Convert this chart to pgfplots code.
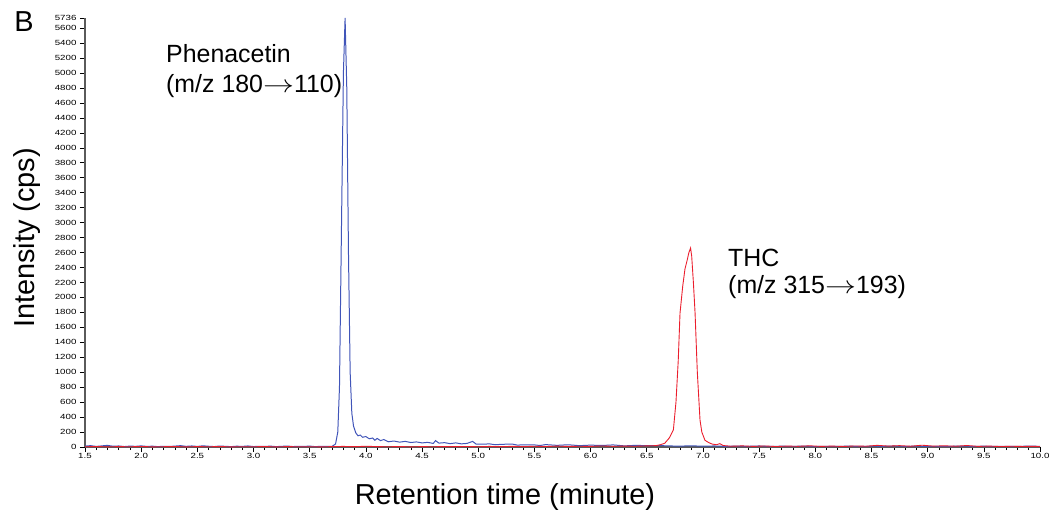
\documentclass[border=0pt]{standalone}
\usepackage{fontspec}
\setmainfont{Liberation Sans}
\usepackage{graphicx}
\usepackage{pgfplots}
\pgfplotsset{compat=1.18}
\definecolor{cblue}{RGB}{65,85,185}
\definecolor{cred}{RGB}{235,30,45}
\definecolor{caxis}{RGB}{90,90,90}
\newcommand{\arr}{\scalebox{1.25}[1]{$\rightarrow$}}
\begin{document}
\begin{tikzpicture}
\path[use as bounding box] (-85bp,-67bp) rectangle (966bp,447bp);
\begin{axis}[
  at={(0,0)}, anchor=south west,
  scale only axis, width=955bp, height=429bp,
  xmin=1.5, xmax=10, ymin=0, ymax=5736,
  axis lines=left, axis line style={-, caxis, line width=1.5pt},
  xtick={1.5,2,...,10}, minor x tick num=4,
  ytick={0,200,...,5600,5736}, minor y tick num=1,
  tick align=outside, major tick length=5bp, minor tick length=3bp,
  tick style={black, line width=0.6pt},
  /pgf/number format/assume math mode=true,
  xticklabel style={font=\fontsize{7.5}{8}\selectfont, xscale=1.3, /pgf/number format/.cd, fixed, fixed zerofill, precision=1},
  yticklabel style={font=\fontsize{7.5}{8}\selectfont, xscale=1.3, /pgf/number format/.cd, 1000 sep={}},
  xticklabel shift=-2bp, yticklabel shift=-1bp,
  clip=false,
]
\addplot[cblue, line width=1pt] coordinates {
(1.50,12)(1.55,18)(1.60,8)(1.65,15)(1.70,22)(1.75,10)(1.80,14)(1.85,6)(1.90,12)(1.95,9)
(2.00,15)(2.05,8)(2.10,11)(2.15,5)(2.20,10)(2.25,7)(2.30,12)(2.35,18)(2.40,9)(2.45,14)
(2.50,8)(2.55,16)(2.60,10)(2.65,6)(2.70,13)(2.75,9)(2.80,5)(2.85,11)(2.90,8)(2.95,14)
(3.00,6)(3.05,10)(3.10,7)(3.15,12)(3.20,5)(3.25,9)(3.30,13)(3.35,6)(3.40,10)(3.45,8)
(3.50,12)(3.55,5)(3.60,9)(3.65,7)(3.70,10)(3.73,40)(3.75,200)(3.765,800)(3.78,2600)
(3.80,5000)(3.815,5736)(3.83,4800)(3.845,2600)(3.86,1000)(3.875,450)(3.89,280)(3.91,190)
(3.93,150)(3.95,160)(3.97,130)(4.00,140)(4.03,110)(4.06,120)(4.08,90)(4.10,115)(4.13,85)
(4.16,100)(4.20,70)(4.25,80)(4.30,65)(4.35,75)(4.40,60)(4.45,68)(4.50,55)(4.55,62)
(4.60,48)(4.62,85)(4.65,52)(4.70,58)(4.75,45)(4.80,55)(4.85,42)(4.90,48)(4.95,75)
(4.98,40)(5.05,38)(5.10,42)(5.15,30)(5.20,35)(5.30,40)(5.35,25)(5.40,30)(5.50,28)
(5.55,20)(5.60,32)(5.70,22)(5.80,30)(5.90,18)(6.00,25)(6.10,20)(6.20,28)(6.30,15)
(6.40,22)(6.50,18)(6.60,20)(6.70,14)(6.80,12)(6.90,16)(7.00,10)(7.10,14)(7.20,8)
(7.30,12)(7.40,9)(7.50,14)(7.60,7)(7.70,11)(7.80,8)(7.90,13)(8.00,6)(8.10,10)(8.20,8)
(8.30,12)(8.40,7)(8.50,11)(8.60,9)(8.70,14)(8.80,8)(8.90,12)(9.00,7)(9.10,10)(9.20,9)
(9.30,13)(9.40,8)(9.50,11)(9.60,7)(9.70,10)(9.80,8)(9.90,12)(10.00,9)
};
\addplot[cred, line width=0.9pt] coordinates {
(1.50,3)(1.60,6)(1.70,2)(1.80,5)(1.90,3)(2.00,7)(2.10,2)(2.20,4)(2.30,6)(2.40,2)
(2.50,5)(2.60,3)(2.70,6)(2.80,2)(2.90,4)(3.00,3)(3.10,6)(3.20,2)(3.30,5)(3.40,3)
(3.50,4)(3.60,2)(3.70,5)(3.80,8)(3.90,4)(4.00,10)(4.10,5)(4.20,3)(4.30,6)(4.40,2)
(4.50,5)(4.60,3)(4.70,6)(4.80,4)(4.90,7)(5.00,3)(5.10,8)(5.20,4)(5.30,9)(5.40,5)
(5.50,10)(5.60,6)(5.70,12)(5.80,7)(5.90,10)(6.00,8)(6.10,14)(6.20,9)(6.30,12)(6.40,10)
(6.50,15)(6.58,18)(6.62,30)(6.66,50)(6.70,120)(6.737,230)(6.76,600)(6.78,1150)(6.796,1790)
(6.82,2150)(6.84,2380)(6.86,2500)(6.875,2600)(6.89,2660)(6.90,2550)(6.915,2200)(6.93,1790)
(6.95,1000)(6.974,360)(6.99,200)(7.018,90)(7.05,60)(7.08,40)(7.12,30)(7.15,45)(7.18,20)
(7.25,10)(7.35,15)
(7.45,8)(7.55,14)(7.65,6)(7.75,12)(7.85,9)(7.95,16)(8.05,8)(8.15,12)(8.25,7)(8.35,14)
(8.45,10)(8.55,22)(8.65,12)(8.75,18)(8.85,10)(8.95,24)(9.05,12)(9.15,16)(9.25,10)
(9.35,20)(9.45,8)(9.55,12)(9.65,6)(9.75,10)(9.85,7)(9.95,9)(10.00,6)
};
\end{axis}
\node[font=\fontsize{29}{34}\selectfont] at (-61bp,425bp) {B};
\node[font=\fontsize{29}{34}\selectfont, rotate=90] at (-58bp,209bp) {Intensity (cps)};
\node[font=\fontsize{29}{34}\selectfont] at (420bp,-50bp) {Retention time (minute)};
\node[font=\fontsize{25}{30}\selectfont, align=left, anchor=north west, inner sep=0pt] at (81bp,403bp) {Phenacetin\\(m/z 180\arr110)};
\node[font=\fontsize{25}{27}\selectfont, align=left, anchor=north west, inner sep=0pt] at (643bp,198bp) {THC\\(m/z 315\arr193)};
\end{tikzpicture}
\end{document}
